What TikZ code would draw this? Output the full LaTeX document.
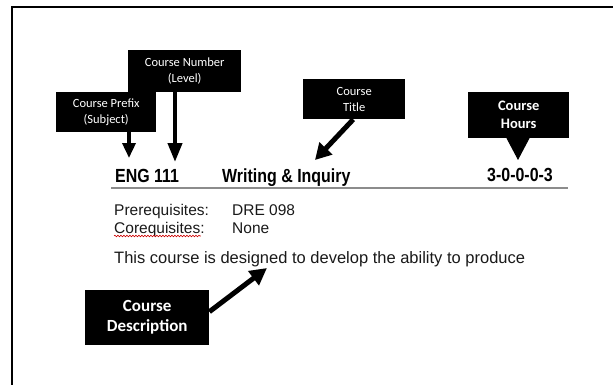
\documentclass[tikz,border=0pt]{standalone}
\usepackage{fontspec}
\setmainfont{Liberation Sans}
\newfontfamily\headfont[FakeStretch=0.84]{Liberation Sans}
\newfontfamily\boxfont{Carlito}
\usetikzlibrary{arrows.meta,decorations.pathmorphing}
\begin{document}
\begin{tikzpicture}[x=1pt,y=-1pt,
  lab/.style={fill=black,text=white,align=center,inner sep=0pt,anchor=north west},
  smallbox/.style={lab,font=\boxfont\fontsize{12.5}{16}\selectfont},
  head/.style={anchor=base west,inner sep=0pt,text=black,font=\headfont\bfseries\fontsize{19}{22}\selectfont},
  body/.style={anchor=base west,inner sep=0pt,text=black!90,font=\fontsize{15.5}{18}\selectfont},
  arr/.style n args={3}{line width=#1,-{Triangle[length=#2,width=#3]}},
  frame/.style={line width=2pt,black}]
\useasboundingbox (0,0) rectangle (615,385);
% frame
\coordinate (fa) at (12,385);
\coordinate (fb) at (12,7);
\coordinate (fc) at (613,7);
\draw[frame] (fa) -- (fb) -- (fc);
% label boxes
\node[smallbox,minimum width=113pt,minimum height=42pt] (num) at (128,50) {Course Number\\(Level)};
\node[smallbox,minimum width=100pt,minimum height=40pt] (pre) at (56,92) {Course Prefix\\(Subject)};
\node[smallbox,minimum width=102pt,minimum height=40pt] (ttl) at (303,79) {Course\\Title};
\node[lab,font=\boxfont\bfseries\fontsize{14.5}{18}\selectfont,minimum width=101pt,minimum height=46pt] (hrs) at (468,92) {Course\\Hours};
\node[lab,font=\boxfont\bfseries\fontsize{17}{20}\selectfont,minimum width=124pt,minimum height=55pt] (dsc) at (85,290) {Course\\Description};
% heading line
\node[head] (eng) at (115,182) {ENG 111};
\node[head] (wri) at (222,182) {Writing \& Inquiry};
\node[head] (hours) at (487,181) {3-0-0-0-3};
\coordinate (ra) at (111,188);
\coordinate (rb) at (568,188);
\draw[line width=2pt,black!45] (ra) -- (rb);
% body
\node[body] (prl) at (114,215) {Prerequisites:};
\node[body] (prv) at (232,215) {DRE 098};
\node[body] (col) at (114,233) {Corequisites:};
\node[body] (cov) at (232,233) {None};
\draw[red!80!black,line width=0.6pt,decorate,decoration={snake,amplitude=0.8pt,segment length=3pt}]
  ([yshift=-3pt]col.base west) -- ([yshift=-3pt,xshift=-4pt]col.base east);
\node[body,font=\fontsize{16.5}{19}\selectfont] (desc) at (114,263) {This course is designed to develop the ability to produce};
% arrows
\coordinate (tipP) at (129,158);
\coordinate (tipN) at (175,162);
\coordinate (tipT) at (315,160);
\coordinate (tipH) at (518,160);
\coordinate (tipD) at (267,268);
\draw[arr={3.5pt}{15pt}{13pt}] (tipP |- pre.south) -- (tipP);
\draw[arr={4pt}{19pt}{14pt}] (tipN |- num.south) -- (tipN);
\draw[arr={5pt}{16pt}{17pt}] ([xshift=-1pt]ttl.south) -- (tipT);
\draw[arr={1pt}{22pt}{23pt}] (tipH |- hrs.south) -- (tipH);
\draw[arr={5pt}{17pt}{17pt}] ([yshift=6pt]dsc.east) -- (tipD);
\end{tikzpicture}
\end{document}
